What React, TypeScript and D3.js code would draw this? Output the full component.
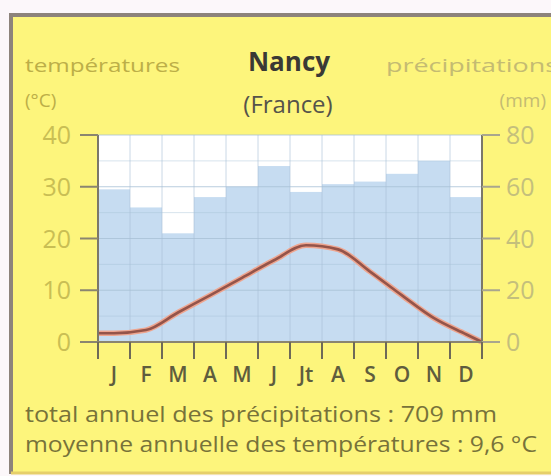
import React from "react";
import * as d3 from "d3";

// Nancy (France) climate diagram: monthly precipitation bars (mm) and mean temperature curve (°C)
const months = ["J", "F", "M", "A", "M", "J", "Jt", "A", "S", "O", "N", "D"];
const precipitation = [59, 52, 42, 56, 60, 68, 58, 61, 62, 65, 70, 56];
const temperature = [1.7, 2.3, 5.7, 9.0, 12.4, 15.8, 18.7, 17.9, 13.6, 9.0, 4.6, 1.5];
// temperature at the start and end edges of the year axis
const edgeTemperature = [1.7, 0];
const tempTicks = [0, 10, 20, 30, 40];
const precipTicks = [0, 20, 40, 60, 80];
const totalPrecip = "709 mm";
const meanTemp = "9,6 °C";

const W = 551;
const H = 476;
const plot = { left: 98, right: 482, top: 135, bottom: 342 };
const FONT = "'Open Sans', 'DejaVu Sans', sans-serif";

export default function App() {
  const keys = months.map((m, i) => `${i}`);
  const x = d3.scaleBand<string>().domain(keys).range([plot.left, plot.right]).padding(0);
  const yT = d3.scaleLinear().domain([0, 40]).range([plot.bottom, plot.top]);
  const yP = d3.scaleLinear().domain([0, 80]).range([plot.bottom, plot.top]);
  const bw = x.bandwidth();

  const pts: [number, number][] = [
    [plot.left, yT(edgeTemperature[0])],
    ...temperature.map((t, i) => [x(`${i}`)! + bw / 2, yT(t)] as [number, number]),
    [plot.right, yT(edgeTemperature[1])],
  ];
  const line = d3.line().curve(d3.curveMonotoneX)(pts) || "";

  const gridH = d3.range(0, 41, 5);
  const bounds = d3.range(0, 13).map((i) => plot.left + i * bw);

  return (
    <svg width={W} height={H} style={{ position: "absolute", left: 0, top: 0 }} fontFamily={FONT}>
      <rect x={0} y={0} width={W} height={H} fill="#fcf7fa" />
      {/* framed yellow card */}
      <rect x={11} y={15} width={W} height={458} fill="#fdf57c" />
      <line x1={11} y1={15} x2={W} y2={15} stroke="#8d837b" strokeWidth={4} />
      <line x1={11} y1={13} x2={11} y2={474} stroke="#8d837b" strokeWidth={4} />
      <line x1={11} y1={473} x2={W} y2={473} stroke="#e6cf6a" strokeWidth={3} />

      {/* headings */}
      <text x={25} y={72} fontSize={19} fill="#bcae48" textLength={155} lengthAdjust="spacingAndGlyphs">températures</text>
      <text x={25} y={107} fontSize={19} fill="#bcae48">(°C)</text>
      <text x={289} y={71} fontSize={26} fontWeight="bold" fill="#3a3935" textAnchor="middle">Nancy</text>
      <text x={288} y={113} fontSize={24} fill="#55534a" textAnchor="middle">(France)</text>
      <text x={386} y={72} fontSize={19} fill="#c4bb72" textLength={172} lengthAdjust="spacingAndGlyphs">précipitations</text>
      <text x={546} y={107} fontSize={19} fill="#c4bb72" textAnchor="end">(mm)</text>

      {/* plot background */}
      <rect x={plot.left} y={plot.top} width={plot.right - plot.left} height={plot.bottom - plot.top} fill="#ffffff" />
      {/* precipitation bars */}
      {precipitation.map((p, i) => (
        <rect key={i} x={x(`${i}`)!} y={yP(p)} width={bw} height={plot.bottom - yP(p)} fill="#c6dcf1" />
      ))}
      {/* grid */}
      {gridH.map((g) => (
        <line key={`h${g}`} x1={plot.left} x2={plot.right} y1={yT(g)} y2={yT(g)}
          stroke="#a7c0d6" strokeOpacity={g % 10 === 0 ? 0.8 : 0.45} strokeWidth={1} />
      ))}
      {bounds.slice(1, 12).map((b, i) => (
        <line key={`v${i}`} x1={b} x2={b} y1={plot.top} y2={plot.bottom} stroke="#a7c0d6" strokeOpacity={0.6} />
      ))}

      {/* temperature curve */}
      <path d={line} fill="none" stroke="#eea58f" strokeWidth={5.5} strokeLinejoin="round" />
      <path d={line} fill="none" stroke="#94544a" strokeWidth={2.6} strokeLinejoin="round" />

      {/* axes */}
      <line x1={plot.left} x2={plot.left} y1={plot.top} y2={plot.bottom} stroke="#7b776a" strokeWidth={2} />
      <line x1={plot.right} x2={plot.right} y1={plot.top} y2={plot.bottom} stroke="#7b776a" strokeWidth={2} />
      <line x1={80} x2={500} y1={plot.bottom} y2={plot.bottom} stroke="#8a8570" strokeWidth={2} />
      {tempTicks.map((t) => (
        <g key={`t${t}`}>
          <line x1={80} x2={plot.left} y1={yT(t)} y2={yT(t)} stroke="#8a8570" strokeWidth={2} />
          <text x={71} y={yT(t) + 9} fontSize={25} fill="#c9be54" textAnchor="end">{t}</text>
        </g>
      ))}
      {precipTicks.map((p) => (
        <g key={`p${p}`}>
          <line x1={plot.right} x2={500} y1={yP(p)} y2={yP(p)} stroke="#a9a68e" strokeWidth={2} />
          <text x={506} y={yP(p) + 9} fontSize={25} fill="#c4bf7c">{p}</text>
        </g>
      ))}
      {bounds.map((b, i) => (
        <line key={`m${i}`} x1={b} x2={b} y1={plot.bottom} y2={plot.bottom + 17} stroke="#6e6a58" strokeWidth={2} />
      ))}
      {months.map((m, i) => (
        <text key={`l${i}`} x={x(`${i}`)! + bw / 2} y={382} fontSize={21} fontWeight={600} fill="#5f5d3e" textAnchor="middle">{m}</text>
      ))}

      {/* annual summary */}
      <text x={25} y={422} fontSize={21} fill="#77723a" textLength={472} lengthAdjust="spacingAndGlyphs">total annuel des précipitations : {totalPrecip}</text>
      <text x={25} y={452} fontSize={21} fill="#77723a" textLength={512} lengthAdjust="spacingAndGlyphs">moyenne annuelle des températures : {meanTemp}</text>
    </svg>
  );
}
